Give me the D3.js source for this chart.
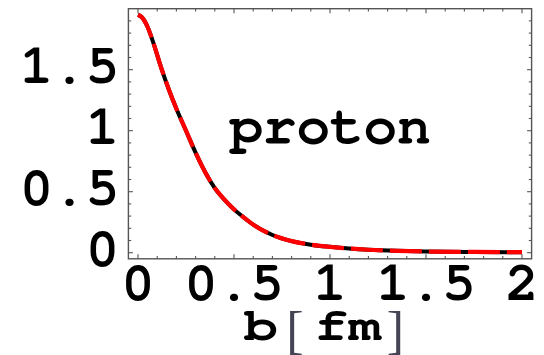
<!DOCTYPE html>
<html>
<head>
<meta charset="utf-8">
<script src="https://cdn.jsdelivr.net/npm/d3@7"></script>
<style>
  html, body { margin: 0; padding: 0; background: #fff; }
  svg { display: block; }
  .mono { font-family: "Nimbus Mono PS", "FreeMono", "Courier 10 Pitch", "Courier New", "Liberation Mono", monospace; font-weight: bold; fill: #000; }
</style>
</head>
<body>
<svg id="chart" width="544" height="355"></svg>
<script>
// Transverse charge density of the proton, rho(b), versus impact parameter b [fm]
const bValues = [0, 0.02, 0.05, 0.08, 0.12, 0.16, 0.2, 0.25, 0.3, 0.35, 0.4, 0.45, 0.5,
                 0.55, 0.6, 0.7, 0.8, 0.9, 1.0, 1.1, 1.2, 1.35, 1.5, 1.75, 2.0];
const rhoValues = [1.95, 1.93, 1.85, 1.72, 1.52, 1.34, 1.18, 1.0, 0.82, 0.66, 0.53, 0.435, 0.355,
                   0.29, 0.23, 0.145, 0.095, 0.066, 0.048, 0.034, 0.024, 0.015, 0.010, 0.006, 0.004];

const xTickLabels = [0, 0.5, 1, 1.5, 2];
const yTickLabels = [0, 0.5, 1, 1.5];
const xMinorTicks = d3.range(0, 21).map(i => i / 10);
const yMinorTicks = d3.range(0, 20).map(i => i / 10);

const curveLabel = "proton";

const svg = d3.select("#chart");

const x = d3.scaleLinear().domain([-0.05, 2.05]).range([128.4, 531.6]);
const y = d3.scaleLinear().domain([-0.05, 2.0]).range([258.8, 8.7]);

const [x0, x1] = x.range();
const [yb, yt] = y.range();

// frame
svg.append("rect")
  .attr("x", x0).attr("y", yt)
  .attr("width", x1 - x0).attr("height", yb - yt)
  .attr("fill", "none").attr("stroke", "#555").attr("stroke-width", 1.4);

const isMajor = v => Math.abs(v * 2 - Math.round(v * 2)) < 1e-6;
const tickG = svg.append("g").attr("stroke", "#555").attr("stroke-width", 1.1);

// ticks on all four sides, pointing inward
xMinorTicks.forEach(v => {
  const len = isMajor(v) ? 4.5 : 2.8;
  tickG.append("line").attr("x1", x(v)).attr("x2", x(v)).attr("y1", yb).attr("y2", yb - len);
  tickG.append("line").attr("x1", x(v)).attr("x2", x(v)).attr("y1", yt).attr("y2", yt + len);
});
yMinorTicks.forEach(v => {
  const len = isMajor(v) ? 4.5 : 2.8;
  tickG.append("line").attr("y1", y(v)).attr("y2", y(v)).attr("x1", x0).attr("x2", x0 + len);
  tickG.append("line").attr("y1", y(v)).attr("y2", y(v)).attr("x1", x1).attr("x2", x1 - len);
});

// tick labels
svg.append("g").selectAll("text").data(xTickLabels).join("text")
  .attr("class", "mono")
  .attr("x", d => x(d))
  .attr("y", 299.5)
  .attr("text-anchor", "middle")
  .attr("font-size", 55)
  .text(d => String(d));

svg.append("g").selectAll("text").data(yTickLabels).join("text")
  .attr("class", "mono")
  .attr("x", 119)
  .attr("y", d => y(d) + 13.5)
  .attr("text-anchor", "end")
  .attr("font-size", 55)
  .text(d => String(d));

// density curve: black line under a red dashed line
const pts = bValues.map((b, i) => [b, rhoValues[i]]);
const line = d3.line().x(d => x(d[0])).y(d => y(d[1])).curve(d3.curveMonotoneX);

svg.append("path").datum(pts)
  .attr("d", line).attr("fill", "none")
  .attr("stroke", "#000").attr("stroke-width", 4)
  .attr("stroke-linecap", "butt");

svg.append("path").datum(pts)
  .attr("d", line).attr("fill", "none")
  .attr("stroke", "#f00").attr("stroke-width", 4.2)
  .attr("stroke-dasharray", "32,7")
  .attr("stroke-dashoffset", 5)
  .attr("stroke-linecap", "butt");

// curve label
svg.append("text")
  .attr("class", "mono")
  .attr("x", 330).attr("y", 143)
  .attr("text-anchor", "middle")
  .attr("font-size", 56)
  .text(curveLabel);

// axis label: b [ fm ], set slightly wide
const axisLabel = svg.append("g");
const wide = (cx, cy) => `translate(${cx},${cy}) scale(1.2,1)`;
axisLabel.append("text").attr("class", "mono")
  .attr("transform", wide(261, 340)).attr("text-anchor", "middle").attr("font-size", 47).text("b");
axisLabel.append("text").attr("class", "mono")
  .attr("transform", wide(348, 340)).attr("text-anchor", "middle").attr("font-size", 47).text("fm");
axisLabel.selectAll("text.br").data([["[", 295], ["]", 395.5]]).join("text")
  .attr("class", "br")
  .attr("x", d => d[1]).attr("y", 348)
  .attr("text-anchor", "middle")
  .attr("font-family", "Liberation Serif, serif")
  .attr("font-weight", "normal")
  .attr("font-size", 52)
  .attr("fill", "#445")
  .text(d => d[0]);
</script>
</body>
</html>
